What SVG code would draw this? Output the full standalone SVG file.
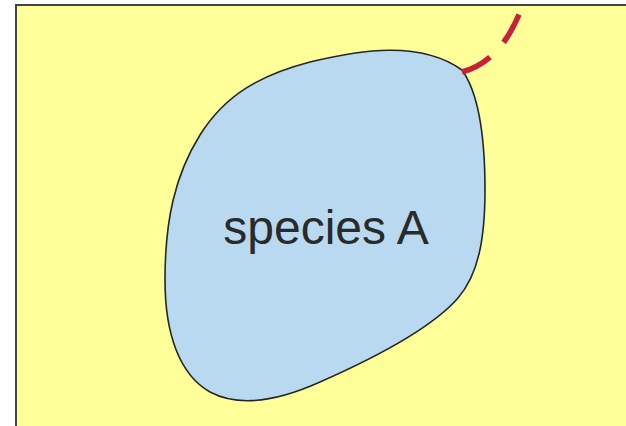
<svg xmlns="http://www.w3.org/2000/svg" width="626" height="426" viewBox="0 0 626 426">
  <style>
    .area { fill: #ffff99; stroke: #444444; stroke-width: 2; }
    .species { fill: #b8d9f0; stroke: #262626; stroke-width: 1.6; }
    .boundary { fill: none; stroke: #c8203a; stroke-width: 5.5; stroke-dasharray: 32 20; }
    .label { font-family: "Liberation Sans", Arial, sans-serif; font-size: 48px; fill: #2a2a2a; text-anchor: middle; }
  </style>
  <rect width="626" height="426" fill="#ffffff"/>
  <g id="range">
    <rect class="area" x="16" y="5" width="620" height="430"/>
  </g>
  <g id="speciesA">
    <path class="species" d="M 462 70 C 480 95, 485 140, 485 190 C 485 240, 478 275, 458 298 C 430 330, 370 360, 320 382 C 280 400, 240 408, 210 392 C 180 375, 165 335, 165 280 C 165 220, 175 175, 200 135 C 225 95, 260 75, 310 62 C 360 50, 420 40, 462 70 Z"/>
    <text class="label" x="326" y="244">species A</text>
  </g>
  <g id="connectors">
    <path class="boundary" d="M 462 72 Q 500 62, 520 12"/>
  </g>
</svg>
